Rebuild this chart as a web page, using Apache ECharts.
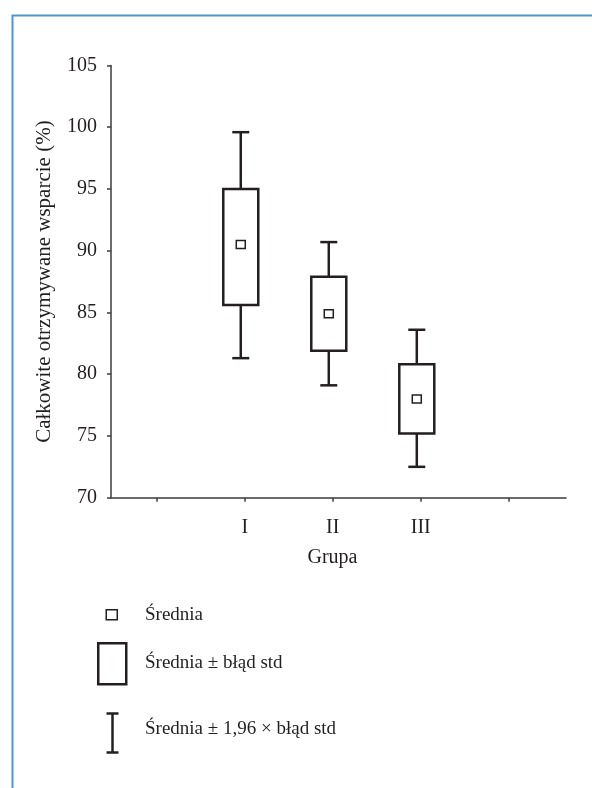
<!DOCTYPE html>
<html>
<head>
<meta charset="utf-8">
<script src="https://cdn.jsdelivr.net/npm/echarts@6/dist/echarts.min.js"></script>
<style>
  html, body { margin: 0; padding: 0; background: #fff; }
  #chart { width: 592px; height: 788px; }
</style>
</head>
<body>
<div id="chart"></div>
<script>
// grupy i statystyki
const groups = ['I', 'II', 'III']
const groupX = [1, 2, 3]
const means = [90.5, 84.9, 78.0]
const seLow = [85.6, 81.9, 75.2]
const seHigh = [95.0, 87.9, 80.8]
const ciLow = [81.3, 79.1, 72.5]
const ciHigh = [99.6, 90.7, 83.6]

const yTicks = [70, 75, 80, 85, 90, 95, 100, 105]
const xTicks = [0, 1, 2, 3, 4]

const legendLabels = ['Średnia', 'Średnia ± błąd std', 'Średnia ± 1,96 × błąd std']

const FONT = '"Liberation Serif", "DejaVu Serif", serif'
const INK = '#231f20'
const AXIS = '#3d3d3d'

const boxData = groupX.map((x, i) => [x, means[i], seLow[i], seHigh[i], ciLow[i], ciHigh[i]])

const renderBox = (params, api) => {
  const shift = -4
  const x = api.value(0)
  const mid = api.coord([x, api.value(1)])
  const lo = api.coord([x, api.value(2)])
  const hi = api.coord([x, api.value(3)])
  const wLo = api.coord([x, api.value(4)])
  const wHi = api.coord([x, api.value(5)])
  const cx = mid[0] + shift
  const boxW = 35
  const capW = 17
  const ls = {stroke: INK, lineWidth: 2.5, fill: null}
  return {
    type: 'group',
    children: [
      {type: 'line', shape: {x1: cx, y1: wHi[1], x2: cx, y2: hi[1]}, style: ls},
      {type: 'line', shape: {x1: cx - capW / 2, y1: wHi[1], x2: cx + capW / 2, y2: wHi[1]}, style: ls},
      {type: 'line', shape: {x1: cx, y1: lo[1], x2: cx, y2: wLo[1]}, style: ls},
      {type: 'line', shape: {x1: cx - capW / 2, y1: wLo[1], x2: cx + capW / 2, y2: wLo[1]}, style: ls},
      {type: 'rect', shape: {x: cx - boxW / 2, y: hi[1], width: boxW, height: lo[1] - hi[1]}, style: {stroke: INK, lineWidth: 2.5, fill: '#fff'}},
      {type: 'rect', shape: {x: cx - 4.5, y: mid[1] - 4, width: 9, height: 8}, style: {stroke: INK, lineWidth: 1.5, fill: '#fff'}}
    ]
  }
}

const legendText = (text, y) => ({
  type: 'text', left: 145, top: y - 8,
  style: {text, font: '19px ' + FONT, fill: INK}
})

const chart = echarts.init(document.getElementById('chart'), null, {renderer: 'canvas'})

chart.setOption({
  backgroundColor: '#fff',
  animation: false,
  textStyle: {fontFamily: FONT},
  grid: {left: 111, right: 26, top: 65.5, bottom: 290.3, containLabel: false},
  xAxis: {
    type: 'value',
    min: -0.52,
    max: 4.65,
    name: 'Grupa',
    nameLocation: 'middle',
    nameGap: 50,
    nameTextStyle: {fontFamily: FONT, fontSize: 20, color: INK, padding: [0, 12, 0, 0]},
    axisLine: {show: true, onZero: false, lineStyle: {color: AXIS, width: 1.5}},
    axisTick: {show: true, length: 4, customValues: xTicks, lineStyle: {color: AXIS, width: 1.5}},
    axisLabel: {
      customValues: groupX,
      margin: 20,
      fontFamily: FONT, fontSize: 20, color: INK,
      formatter: (v) => groups[groupX.indexOf(v)] ?? ''
    },
    splitLine: {show: false}
  },
  yAxis: {
    type: 'value',
    min: yTicks[0],
    max: yTicks[yTicks.length - 1],
    interval: 5,
    name: 'Całkowite otrzymywane wsparcie (%)',
    nameLocation: 'middle',
    nameGap: 56,
    nameTextStyle: {fontFamily: FONT, fontSize: 21, color: INK},
    axisLine: {show: true, onZero: false, lineStyle: {color: AXIS, width: 1.5}},
    axisTick: {show: true, length: 4, lineStyle: {color: AXIS, width: 1.5}},
    axisLabel: {margin: 14, fontFamily: FONT, fontSize: 20, color: INK},
    splitLine: {show: false}
  },
  series: [{
    type: 'custom',
    renderItem: renderBox,
    encode: {x: 0, y: [1, 2, 3, 4, 5]},
    data: boxData,
    clip: false
  }],
  graphic: [
    // niebieska ramka
    {type: 'rect', left: 10, top: 13, shape: {width: 700, height: 900}, style: {stroke: '#4f94cd', lineWidth: 2, fill: null}, silent: true},
    // legenda
    {type: 'rect', left: 105.5, top: 609, shape: {width: 11, height: 10}, style: {stroke: INK, lineWidth: 1.5, fill: '#fff'}},
    legendText(legendLabels[0], 614),
    {type: 'rect', left: 97, top: 642, shape: {width: 28, height: 41}, style: {stroke: INK, lineWidth: 2.5, fill: '#fff'}},
    legendText(legendLabels[1], 662),
    {
      type: 'group', left: 104, top: 711,
      children: [
        {type: 'line', shape: {x1: 8, y1: 1, x2: 8, y2: 40}, style: {stroke: INK, lineWidth: 2.5}},
        {type: 'line', shape: {x1: 2, y1: 1, x2: 14, y2: 1}, style: {stroke: INK, lineWidth: 2.5}},
        {type: 'line', shape: {x1: 2, y1: 40, x2: 14, y2: 40}, style: {stroke: INK, lineWidth: 2.5}}
      ]
    },
    legendText(legendLabels[2], 728)
  ]
})

window.addEventListener('resize', () => chart.resize())
</script>
</body>
</html>
